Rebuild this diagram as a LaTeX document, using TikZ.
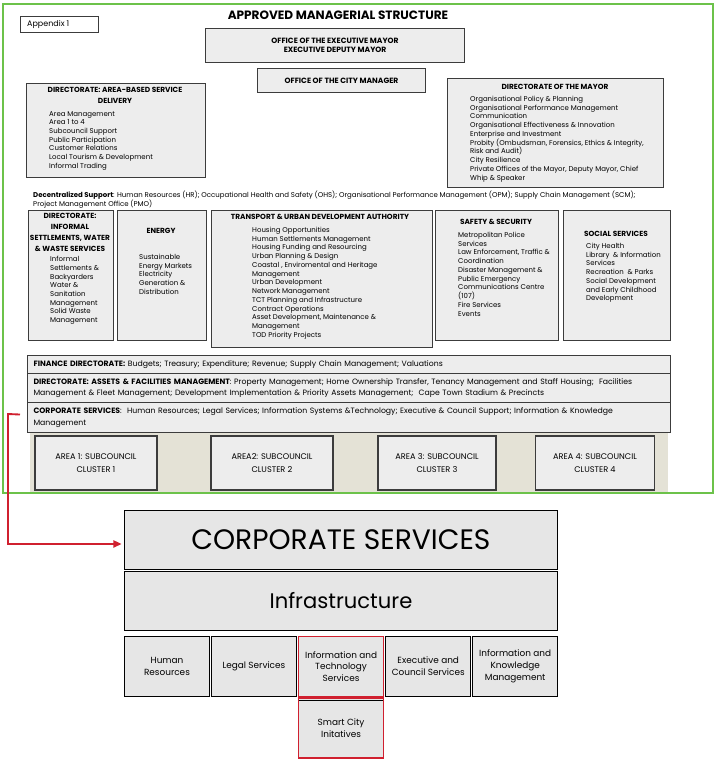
\documentclass[tikz,border=0pt]{standalone}
\usepackage{fontspec}
\setmainfont{Poppins}
\usetikzlibrary{arrows.meta, positioning, calc}
\definecolor{boxgray}{HTML}{EDEDED}
\definecolor{boxborder}{HTML}{3C3C3C}
\definecolor{framegreen}{HTML}{6CC24A}
\definecolor{stripbeige}{HTML}{E4E2D6}
\definecolor{linkred}{HTML}{D0202F}
\definecolor{tilegray}{HTML}{E6E6E6}
\newcommand{\pxu}{0.03cm}
\newcommand{\listtext}{\fontsize{5.95}{7.45}\selectfont}
\newcommand{\bartext}{\fontsize{6.6}{10}\selectfont}
\newcommand{\hdrtext}{\fontsize{6.3}{9.4}\selectfont\bfseries}

\begin{document}
\begin{tikzpicture}[
      x=0.03cm, y=-0.03cm,
      panel/.style={draw=boxborder, line width=0.9pt, fill=boxgray,
        anchor=north west, inner sep=0pt},
      hdr/.style={font=\hdrtext, align=center, inner sep=0pt, anchor=north},
      items/.style={font=\listtext, align=left, inner sep=0pt, anchor=north west},
      bar/.style={panel, text width=631*\pxu, inner xsep=6*\pxu, align=left,
        font=\bartext},
      area/.style={draw=boxborder, line width=0.9pt, fill=boxgray,
        minimum height=54*\pxu, align=center, font=\fontsize{7}{11.5}\selectfont},
      tile/.style={draw=black, line width=0.8pt, fill=tilegray,
        minimum width=85*\pxu, minimum height=60*\pxu, align=center,
        inner sep=0pt, font=\fontsize{7.6}{10}\selectfont},
      >=Latex
    ]
      \useasboundingbox (0,0) rectangle (724,766);
      \draw[framegreen, line width=1.8pt] (3,4) rectangle (713,493);

      % top of the structure
      \node[draw=boxborder, line width=0.8pt, anchor=north west, inner sep=0pt,
        minimum width=78*\pxu, minimum height=16*\pxu] (appendix) at (20,16) {};
      \node[anchor=west, font=\fontsize{6.8}{8}\selectfont, inner sep=0pt]
        (appendixtxt) at ($(appendix.west)+(7,0)$) {Appendix 1};
      \node[font=\fontsize{10.3}{12}\selectfont\bfseries, inner sep=0pt]
        (title) at (338,15) {APPROVED MANAGERIAL STRUCTURE};
      \node[panel, minimum width=259*\pxu, minimum height=34*\pxu,
        font=\fontsize{6.5}{9.4}\selectfont\bfseries, align=center] (execmayor) at (205,28)
        {OFFICE OF THE EXECUTIVE MAYOR\\[-2pt]EXECUTIVE DEPUTY MAYOR};
      \node[panel, minimum width=168*\pxu, minimum height=24*\pxu,
        font=\fontsize{6.5}{9.4}\selectfont\bfseries] (citymanager) at (257,68)
        {OFFICE OF THE CITY MANAGER};

      % area-based service delivery
      \node[panel, minimum width=179*\pxu, minimum height=94*\pxu] (areabased) at (26,83) {};
      \node[hdr] (areahdr) at (115,87) {DIRECTORATE: AREA-BASED SERVICE\\DELIVERY};
      \node[items] (arealist) at (49,111) {Area Management\\Area 1 to 4\\
        Subcouncil Support\\Public Participation\\Customer Relations\\
        Local Tourism \& Development\\Informal Trading};

      % directorate of the mayor
      \node[panel, minimum width=216*\pxu, minimum height=109*\pxu] (mayordir) at (447,78) {};
      \node[hdr] (mayorhdr) at (555,84) {DIRECTORATE OF THE MAYOR};
      \node[items] (mayorlist) at (470,96) {Organisational Policy \& Planning\\
        Organisational Performance Management\\Communication\\
        Organisational Effectiveness \& Innovation\\Enterprise and Investment\\
        Probity (Ombudsman, Forensics, Ethics \& Integrity,\\Risk and Audit)\\
        City Resilience\\Private Offices of the Mayor, Deputy Mayor, Chief\\
        Whip \& Speaker};

      \node[items] (decentral) at (33,191) {\textbf{Decentralized Support}: Human Resources (HR);
        Occupational Health and Safety (OHS); Organisational Performance Management (OPM);
        Supply Chain Management (SCM);\\Project Management Office (PMO)};

      % row of directorates
      \node[panel, minimum width=85*\pxu, minimum height=130*\pxu] (informal) at (28,210) {};
      \node[hdr] (informalhdr) at (70,213) {DIRECTORATE:\\INFORMAL\\SETTLEMENTS, WATER\\\& WASTE SERVICES};
      \node[items] (informallist) at (50,256) {Informal\\Settlements \&\\Backyarders\\
        Water \&\\Sanitation\\Management\\Solid Waste\\Management};

      \node[panel, minimum width=89*\pxu, minimum height=130*\pxu] (energy) at (117,210) {};
      \node[hdr] (energyhdr) at (161,228) {ENERGY};
      \node[items] (energylist) at (139,254) {Sustainable\\Energy Markets\\Electricity\\
        Generation \&\\Distribution};

      \node[panel, minimum width=221*\pxu, minimum height=137*\pxu] (tuda) at (211,210) {};
      \node[hdr] (tudahdr) at (320,214) {TRANSPORT \& URBAN DEVELOPMENT AUTHORITY};
      \node[items] (tudalist) at (252,227) {Housing Opportunities\\
        Human Settlements Management\\Housing Funding and Resourcing\\
        Urban Planning \& Design\\Coastal , Enviromental and Heritage\\Management\\
        Urban Development\\Network Management\\TCT Planning and Infrastructure\\
        Contract Operations\\Asset Development, Maintenance \&\\Management\\
        TOD Priority Projects};

      \node[panel, minimum width=123*\pxu, minimum height=130*\pxu] (safety) at (435,210) {};
      \node[hdr] (safetyhdr) at (496,219) {SAFETY \& SECURITY};
      \node[items] (safetylist) at (458,232) {Metropolitan Police\\Services\\
        Law Enforcement, Traffic \&\\Coordination\\Disaster Management \&\\
        Public Emergency\\Communications Centre\\(107)\\Fire Services\\Events};

      \node[panel, minimum width=107*\pxu, minimum height=130*\pxu] (social) at (563,210) {};
      \node[hdr] (socialhdr) at (616,231) {SOCIAL SERVICES};
      \node[items] (sociallist) at (586,243) {City Health\\Library \ \& Information\\
        Services\\Recreation \ \& Parks\\Social Development\\and Early Childhood\\
        Development};

      % full-width bars
      \node[bar, minimum height=18*\pxu] (finance) at (27,355)
        {\textbf{FINANCE DIRECTORATE:} Budgets; Treasury; Expenditure; Revenue;
        Supply Chain Management; Valuations};
      \node[bar, minimum height=29*\pxu] (assets) at (27,373)
        {\textbf{DIRECTORATE: ASSETS \& FACILITIES MANAGEMENT}: Property Management;
        Home Ownership Transfer, Tenancy Management and Staff Housing; \ Facilities\\
        Management \& Fleet Management; Development Implementation \& Priority Assets
        Management; \ Cape Town Stadium \& Precincts};
      \node[bar, minimum height=30*\pxu] (corpbar) at (27,402)
        {\textbf{CORPORATE SERVICES}: \ Human Resources; Legal Services; Information
        Systems \&Technology; Executive \& Council Support; Information \& Knowledge\\
        Management};

      % subcouncil clusters
      \fill[stripbeige] (30,433) rectangle (668,492);
      \node[area, minimum width=122*\pxu] (area1) at (96,463) {AREA 1: SUBCOUNCIL\\CLUSTER 1};
      \node[area, minimum width=122*\pxu] (area2) at (272,463) {AREA2: SUBCOUNCIL\\CLUSTER 2};
      \node[area, minimum width=118*\pxu] (area3) at (437,463) {AREA 3: SUBCOUNCIL\\CLUSTER 3};
      \node[area, minimum width=119*\pxu] (area4) at (595,463) {AREA 4: SUBCOUNCIL\\CLUSTER 4};

      % corporate services detail
      \node[draw=black, line width=0.8pt, fill=tilegray, anchor=north west,
        minimum width=433*\pxu, minimum height=59*\pxu,
        font=\fontsize{24}{28}\selectfont] (corpserv) at (124,510) {CORPORATE SERVICES};
      \node[draw=black, line width=0.8pt, fill=tilegray, anchor=north west,
        minimum width=433*\pxu, minimum height=59*\pxu,
        font=\fontsize{18}{22}\selectfont] (infra) at (124,571) {Infrastructure};

      \node[tile, anchor=north west] (hr) at (124,636) {Human\\Resources};
      \node[tile, right=1*\pxu of hr] (legal) {Legal Services};
      \node[tile, draw=linkred, line width=1.2pt, right=1*\pxu of legal] (itserv)
        {Information and\\Technology\\Services};
      \node[tile, right=1*\pxu of itserv] (execcouncil) {Executive and\\Council Services};
      \node[tile, right=1*\pxu of execcouncil] (knowledge) {Information and\\Knowledge\\Management};
      \node[tile, draw=linkred, line width=1.2pt, below=0pt of itserv] (smartcity)
        {Smart City\\Initatives};
      \draw[line width=0.8pt] ($(smartcity.north west)+(1,3)$) -- ($(smartcity.north east)+(-1,3)$);

      \coordinate (corpstub) at ($(corpbar.west)+(-7,-3)$);
      \draw[linkred, line width=1.6pt, -{Triangle[length=7pt, width=6pt]}, shorten >=2pt]
        (corpstub) -- (8,414) |- ($(corpserv.west)+(0,4)$);
    \end{tikzpicture}
\end{document}
